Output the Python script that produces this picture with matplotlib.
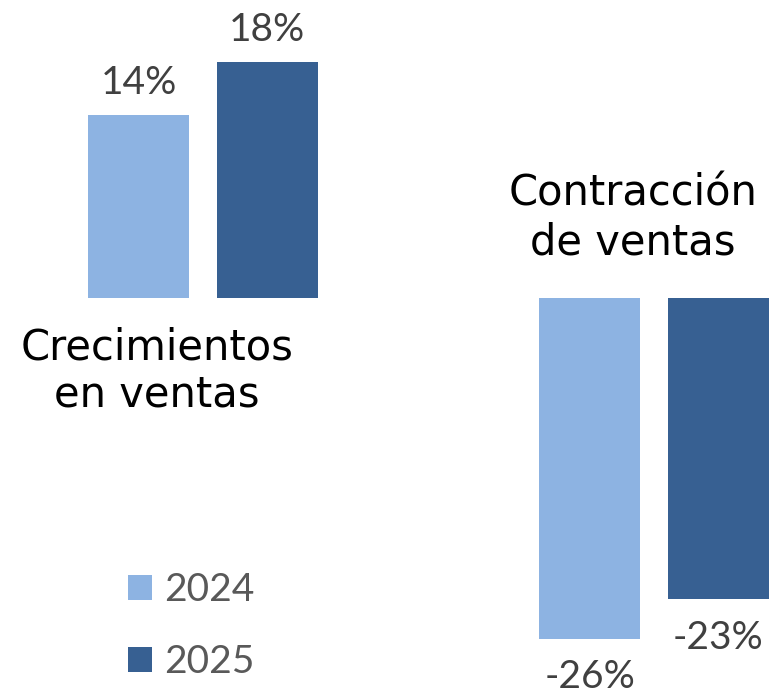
import matplotlib
matplotlib.use("Agg")
import matplotlib.pyplot as plt
import numpy as np

categories = ["Crecimientos\nen ventas", "Contracción\nde ventas"]
series_names = ["2024", "2025"]
values_2024 = [14, -26]
values_2025 = [18, -23]
colors = ["#8DB3E2", "#376092"]

fig = plt.figure(figsize=(7.69, 6.95), dpi=100)
ax = fig.add_axes([0, 0, 1, 1])
x = np.arange(len(categories))
w = 0.224
off = 0.1425
b1 = ax.bar(x - off, values_2024, w, color=colors[0], label=series_names[0])
b2 = ax.bar(x + off, values_2025, w, color=colors[1], label=series_names[1])
ax.set_xlim(-0.450, 1.255)
ax.set_ylim(-30.3, 22.75)
ax.axis("off")

val_font = dict(family=["Lato", "DejaVu Sans"], size=28, color="#404040")
for bars, vals in ((b1, values_2024), (b2, values_2025)):
    for rect, v in zip(bars, vals):
        cx = rect.get_x() + rect.get_width() / 2
        if v >= 0:
            ax.annotate(f"{v}%", (cx, v), xytext=(0, 10), textcoords="offset points",
                        ha="center", va="bottom", **val_font)
        else:
            ax.annotate(f"{v}%", (cx, v), xytext=(0, -15), textcoords="offset points",
                        ha="center", va="top", **val_font)

cat_font = dict(family=["DejaVu Sans"], size=30, color="black")
cat_pos = [(157 / 769, 1 - 326 / 695, 1.17), (633 / 769, 1 - 172 / 695, 1.23)]
for label, (px, py, ls) in zip(categories, cat_pos):
    ax.text(px, py, label, transform=ax.transAxes, ha="center", va="top",
            multialignment="center", linespacing=ls, **cat_font)

leg = ax.legend(handles=[b1, b2], labels=series_names, frameon=False,
                loc="upper left", bbox_to_anchor=(128 / 769, 1 - 572 / 695),
                prop=dict(family=["Lato", "DejaVu Sans"], size=28),
                handlelength=0.62, handleheight=0.62, handletextpad=0.31,
                labelspacing=0.93, borderpad=0, borderaxespad=0)
for t in leg.get_texts():
    t.set_color("#595959")

fig.savefig("out.png", dpi=100)
